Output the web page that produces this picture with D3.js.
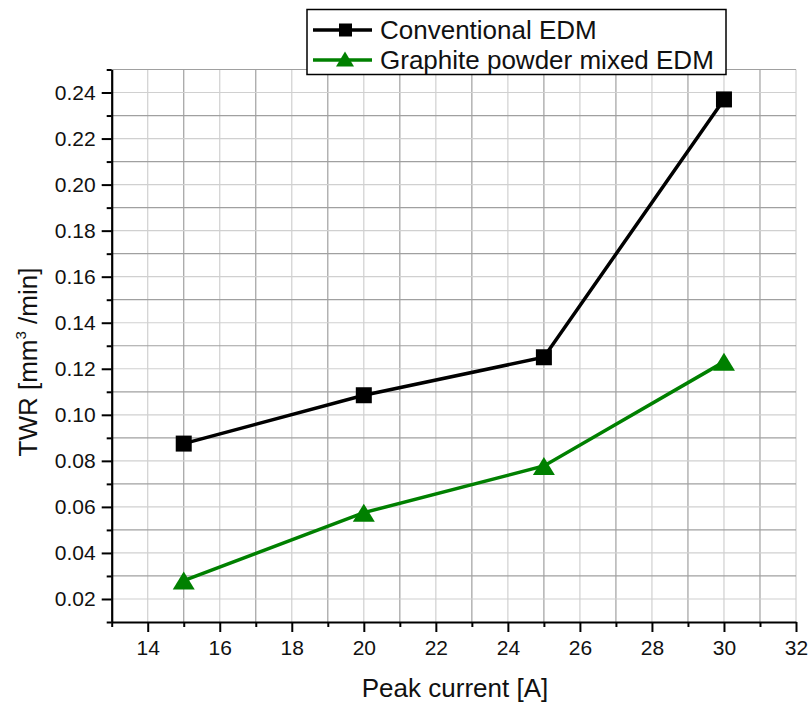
<!DOCTYPE html>
<html><head><meta charset="utf-8">
<script src="https://cdn.jsdelivr.net/npm/d3@7"></script>
<style>body{margin:0;background:#fff}svg{display:block}text{font-family:"Liberation Sans",Arial,sans-serif}</style>
</head><body><svg id="c" width="811" height="704"></svg>
<script>
const xValues = [15, 20, 25, 30];
const conventional = [0.0875, 0.1085, 0.125, 0.237];
const graphite = [0.028, 0.0575, 0.0778, 0.123];
const seriesNames = ["Conventional EDM", "Graphite powder mixed EDM"];
const xMajorTicks = [14, 16, 18, 20, 22, 24, 26, 28, 30, 32];
const xMinorTicks = [13, 15, 17, 19, 21, 23, 25, 27, 29, 31];
const yMajorTicks = [0.02, 0.04, 0.06, 0.08, 0.10, 0.12, 0.14, 0.16, 0.18, 0.20, 0.22, 0.24];
const yMinorTicks = [0.01, 0.03, 0.05, 0.07, 0.09, 0.11, 0.13, 0.15, 0.17, 0.19, 0.21, 0.23, 0.25];

const svg = d3.select("#c");
const L = 111.7, R = 796, T = 69.5, B = 622;
const x = d3.scaleLinear().domain([13, 32]).range([L, R]);
const y = d3.scaleLinear().domain([0.01, 0.25]).range([B, T]);

// grid
const g = svg.append("g");
g.selectAll(".vmin").data(xMinorTicks.filter(d => d > 13)).join("line")
  .attr("x1", d => x(d)).attr("x2", d => x(d)).attr("y1", T).attr("y2", B)
  .attr("stroke", "#a0a0a0").attr("stroke-width", 1.2);
g.selectAll(".vmaj").data(xMajorTicks).join("line")
  .attr("x1", d => x(d)).attr("x2", d => x(d)).attr("y1", T).attr("y2", B)
  .attr("stroke", "#d0d0d0").attr("stroke-width", 1.2);
g.selectAll(".hmin").data(yMinorTicks.filter(d => d > 0.01)).join("line")
  .attr("y1", d => y(d)).attr("y2", d => y(d)).attr("x1", L).attr("x2", R)
  .attr("stroke", "#a0a0a0").attr("stroke-width", 1.2);
g.selectAll(".hmaj").data(yMajorTicks).join("line")
  .attr("y1", d => y(d)).attr("y2", d => y(d)).attr("x1", L).attr("x2", R)
  .attr("stroke", "#d0d0d0").attr("stroke-width", 1.2);

// axes
const fmtY = d3.format(".2f");
svg.append("g").attr("transform", `translate(0,${B})`)
  .call(d3.axisBottom(x).tickValues(xMajorTicks).tickSize(10).tickSizeOuter(0).tickPadding(8));
svg.append("g").attr("transform", `translate(0,${B})`)
  .call(d3.axisBottom(x).tickValues(xMinorTicks).tickSize(5).tickSizeOuter(0).tickFormat(""))
  .select(".domain").remove();
svg.append("g").attr("transform", `translate(${L},0)`)
  .call(d3.axisLeft(y).tickValues(yMajorTicks).tickSize(10).tickSizeOuter(0).tickPadding(6).tickFormat(fmtY));
svg.append("g").attr("transform", `translate(${L},0)`)
  .call(d3.axisLeft(y).tickValues(yMinorTicks).tickSize(5).tickSizeOuter(0).tickFormat(""))
  .select(".domain").remove();
svg.selectAll(".domain").attr("stroke", "#000").attr("stroke-width", 2.2);
svg.selectAll(".tick line").attr("stroke", "#000").attr("stroke-width", 2);
svg.selectAll(".tick text").attr("font-size", 21).attr("fill", "#111")
  .attr("font-family", "'Liberation Sans', Arial, sans-serif");

// axis titles
svg.append("text").attr("x", 455).attr("y", 697).attr("text-anchor", "middle")
  .attr("font-size", 26).attr("fill", "#111").text("Peak current [A]");
const yt = svg.append("text").attr("transform", "translate(37,362) rotate(-90)")
  .attr("text-anchor", "middle").attr("font-size", 26).attr("fill", "#111");
yt.append("tspan").text("TWR [mm");
yt.append("tspan").attr("font-size", 15).attr("dy", -11).text("3");
yt.append("tspan").attr("dy", 11).text(" /min]");

// series
const line = d3.line().x((d, i) => x(xValues[i])).y(d => y(d));
svg.append("path").datum(conventional).attr("d", line).attr("fill", "none")
  .attr("stroke", "#000").attr("stroke-width", 3.5);
svg.append("path").datum(graphite).attr("d", line).attr("fill", "none")
  .attr("stroke", "#008000").attr("stroke-width", 3.5);
svg.selectAll(".sq").data(conventional).join("rect")
  .attr("x", (d, i) => x(xValues[i]) - 8).attr("y", d => y(d) - 8)
  .attr("width", 16).attr("height", 16).attr("fill", "#000");
const tri = (cx, cy, w, h) => `M${cx},${cy - h / 2}L${cx + w / 2},${cy + h / 2}L${cx - w / 2},${cy + h / 2}Z`;
svg.selectAll(".tr").data(graphite).join("path")
  .attr("d", (d, i) => tri(x(xValues[i]), y(d), 22, 18)).attr("fill", "#008000");

// legend
const lg = svg.append("g");
lg.append("rect").attr("x", 307).attr("y", 9.5).attr("width", 419).attr("height", 65)
  .attr("fill", "#fff").attr("stroke", "#000").attr("stroke-width", 1.5);
const rows = [30, 60];
lg.append("line").attr("x1", 313).attr("x2", 372).attr("y1", rows[0]).attr("y2", rows[0])
  .attr("stroke", "#000").attr("stroke-width", 3.5);
lg.append("rect").attr("x", 339).attr("y", rows[0] - 6.5).attr("width", 13).attr("height", 13).attr("fill", "#000");
lg.append("line").attr("x1", 313).attr("x2", 372).attr("y1", rows[1]).attr("y2", rows[1])
  .attr("stroke", "#008000").attr("stroke-width", 3.5);
lg.append("path").attr("d", tri(345, rows[1] - 1, 18, 15)).attr("fill", "#008000");
lg.selectAll(".lt").data(seriesNames).join("text")
  .attr("x", 380).attr("y", (d, i) => rows[i] + 9).attr("font-size", 26).attr("fill", "#111").text(d => d);
</script></body></html>
